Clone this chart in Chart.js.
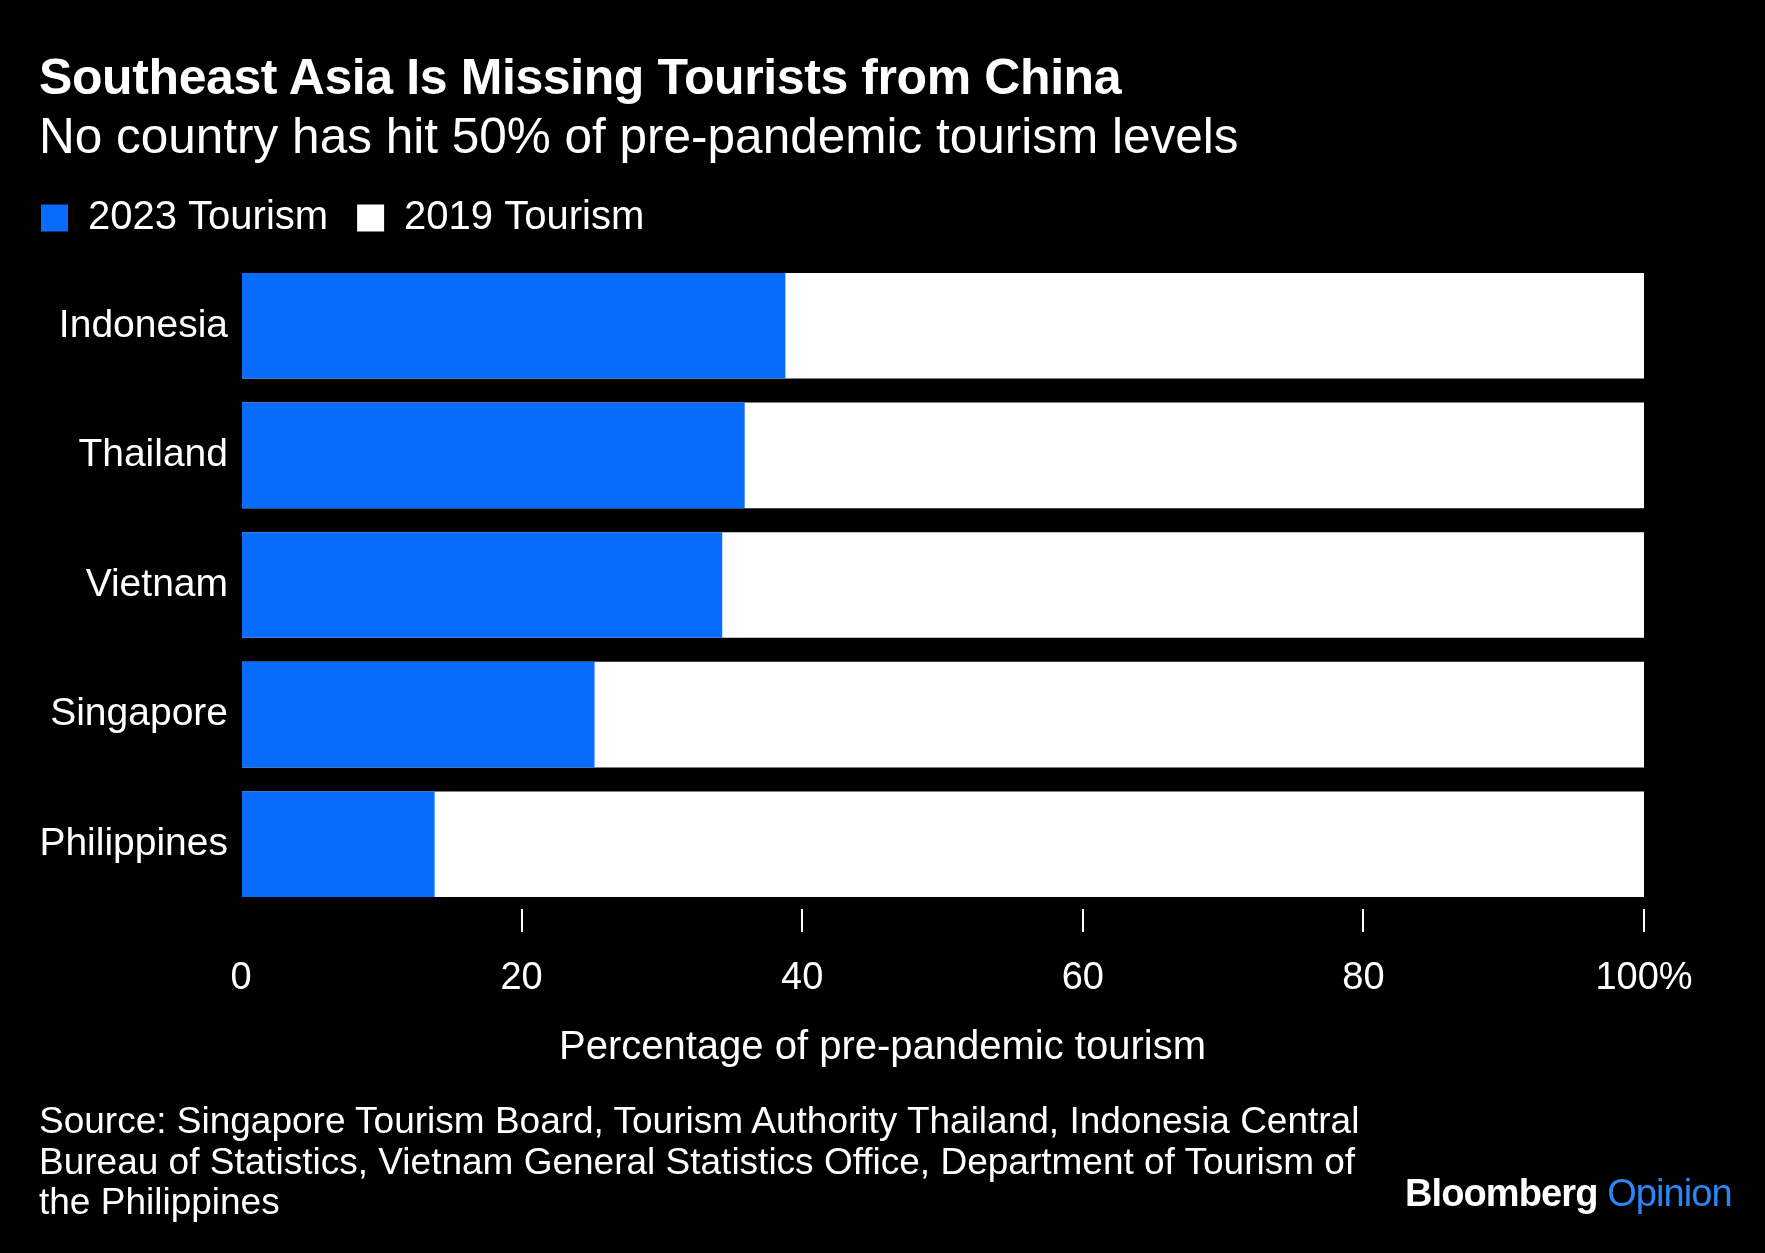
<!DOCTYPE html>
<html>
<head>
<meta charset="utf-8">
<script src="https://cdn.jsdelivr.net/npm/chart.js@4"></script>
<style>
  body { margin: 0; background: #000; font-family: "Liberation Sans", Arial, sans-serif; color: #fff; }
  #wrap { position: relative; width: 1765px; height: 1253px; overflow: hidden; }
  #myChart { position: absolute; left: 0; top: 0; }
  .txt { position: absolute; white-space: nowrap; }
  #titulo { left: 39px; top: 53px; font-size: 50px; font-weight: bold; letter-spacing: -0.4px; line-height: 48px; }
  #subtitulo { left: 39px; top: 112px; font-size: 49.5px; line-height: 48px; }
  #eixo { left: 0; width: 1765px; text-align: center; top: 1021px; font-size: 40px; line-height: 48px; }
  #fonte { left: 39px; top: 1101px; font-size: 37px; line-height: 40.5px; }
  #logo { left: 1405px; top: 1172px; font-size: 38px; letter-spacing: -0.9px; line-height: 42px; }
  #logo b { font-weight: bold; }
  #logo span { color: #2b86f5; }
</style>
</head>
<body>
<div id="wrap">
  <canvas id="myChart" width="1765" height="1253"></canvas>
  <div class="txt" id="titulo">Southeast Asia Is Missing Tourists from China</div>
  <div class="txt" id="subtitulo">No country has hit 50% of pre-pandemic tourism levels</div>
  <div class="txt" id="eixo">Percentage of pre-pandemic tourism</div>
  <div class="txt" id="fonte">Source: Singapore Tourism Board, Tourism Authority Thailand, Indonesia Central<br>Bureau of Statistics, Vietnam General Statistics Office, Department of Tourism of<br>the Philippines</div>
  <div class="txt" id="logo"><b>Bloomberg</b> <span>Opinion</span></div>
</div>
<script>
// dados do grafico
const paises = ['Indonesia', 'Thailand', 'Vietnam', 'Singapore', 'Philippines'];
const turismo2023 = [38.8, 35.9, 34.3, 25.2, 13.8];
const turismo2019 = [100, 100, 100, 100, 100];
const ticksX = [0, 20, 40, 60, 80, 100];
const rotulosX = ['0', '20', '40', '60', '80', '100%'];

const azul = '#0a6cff';
const branco = '#ffffff';

// espaco extra entre a legenda e as barras
const espacoLegenda = {
  id: 'espacoLegenda',
  beforeInit(chart) {
    const fitOriginal = chart.legend.fit;
    chart.legend.fit = function () {
      fitOriginal.bind(chart.legend)();
      this.height += 13;
    };
  }
};

const data = {
  labels: paises,
  datasets: [
    {
      label: '2023 Tourism',
      data: turismo2023,
      backgroundColor: azul,
      borderWidth: 0
    },
    {
      label: '2019 Tourism',
      data: turismo2019,
      backgroundColor: branco,
      borderWidth: 0
    }
  ]
};

const config = {
  type: 'bar',
  data: data,
  plugins: [espacoLegenda],
  options: {
    indexAxis: 'y',
    responsive: false,
    animation: false,
    devicePixelRatio: 1,
    categoryPercentage: 1,
    barPercentage: 0.815,
    layout: { padding: { left: 12, right: 121, top: 169, bottom: 203 } },
    plugins: {
      tooltip: { enabled: false },
      legend: {
        position: 'top',
        align: 'start',
        labels: {
          color: branco,
          font: { family: 'Liberation Sans', size: 40 },
          boxWidth: 27,
          boxHeight: 27,
          padding: 29
        }
      }
    },
    scales: {
      y: {
        stacked: true, // barras sobrepostas
        grid: { display: false, drawTicks: false },
        border: { display: false },
        ticks: {
          color: branco,
          font: { family: 'Liberation Sans', size: 39 },
          padding: 13
        },
        afterFit: function (scale) { scale.width = 229; }
      },
      x: {
        stacked: false,
        min: 0,
        max: 100,
        border: { display: false },
        grid: {
          drawOnChartArea: false,
          drawTicks: true,
          tickLength: 23,
          lineWidth: 2,
          color: function (ctx) {
            return ctx.tick && ctx.tick.value === 0 ? 'rgba(0,0,0,0)' : branco;
          }
        },
        afterBuildTicks: function (scale) {
          scale.ticks = ticksX.map(v => ({ value: v }));
        },
        ticks: {
          color: branco,
          font: { family: 'Liberation Sans', size: 38 },
          padding: 24,
          maxRotation: 0,
          callback: function (value) {
            return rotulosX[ticksX.indexOf(value)];
          }
        },
        afterFit: function (scale) { scale.height = 141; }
      }
    }
  }
};

const myChart = new Chart(document.getElementById('myChart'), config);
</script>
</body>
</html>
